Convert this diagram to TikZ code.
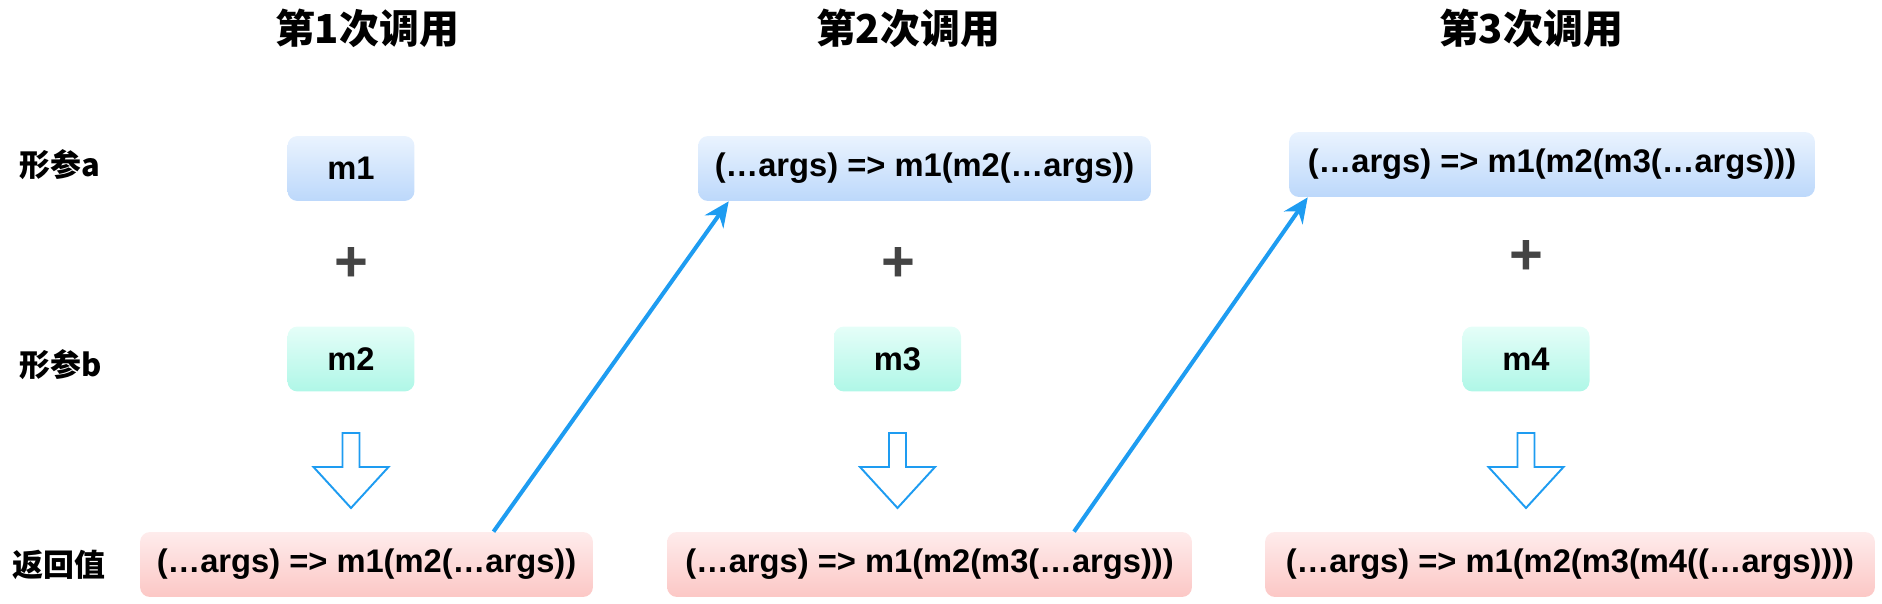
\documentclass[tikz,border=0pt]{standalone}
\usepackage{fontspec}
\setmainfont{Liberation Sans}
\newfontfamily\cjk{Noto Sans CJK SC}
\usepackage{tikz}
\usetikzlibrary{arrows.meta, calc}

\definecolor{blueTop}{HTML}{EAF3FE}
\definecolor{blueBot}{HTML}{BCD8FB}
\definecolor{greenTop}{HTML}{E5FEF8}
\definecolor{greenBot}{HTML}{AFF7E7}
\definecolor{pinkTop}{HTML}{FEECEC}
\definecolor{pinkBot}{HTML}{FCC7C5}
\definecolor{lineBlue}{HTML}{1E9CF1}
\definecolor{plusGray}{HTML}{444444}

\begin{document}
\begin{tikzpicture}[x=0.02cm,y=-0.02cm,
		box/.style={rounded corners=0.2cm,minimum height=1.3cm,inner sep=0pt,
			font=\fontsize{18.6}{21}\selectfont\bfseries},
		arg a/.style={box,top color=blueTop,bottom color=blueBot},
		arg b/.style={box,top color=greenTop,bottom color=greenBot,minimum width=2.54cm},
		ret node/.style={box,top color=pinkTop,bottom color=pinkBot},
		title node/.style={font=\cjk\fontsize{22.7}{26}\selectfont\bfseries},
		side node/.style={anchor=west,font=\cjk\fontsize{17.6}{20}\selectfont\bfseries},
		plus node/.style={text=plusGray,font=\fontsize{33}{34}\selectfont\bfseries},
		hollow/.style={draw=lineBlue,line width=1.1pt,fill=white},
		pass/.style={draw=lineBlue,line width=2.3pt,-{Stealth[length=0.5cm,width=0.45cm]}}]
	
	\useasboundingbox (0,0) rectangle (1882,604);
	
	% titles
	\node[title node] (t1) at (367,28) {第1次调用};
	\node[title node] (t2) at (908,28) {第2次调用};
	\node[title node] (t3) at (1531,28) {第3次调用};
	
	% row labels
	\node[side node] (la) at (13,165) {形参a};
	\node[side node] (lb) at (13,365) {形参b};
	\node[side node] (lr) at (6,565) {返回值};
	
	% first argument
	\node[arg a,minimum width=2.54cm] (a1) at (351,168.5) {m1};
	\node[arg a,minimum width=9.06cm] (a2) at (924.5,168.5) {(…args) => m1(m2(…args))};
	\node[arg a,minimum width=10.52cm] (a3) at (1552,164.5) {(…args) => m1(m2(m3(…args)))};
	
	% plus
	\node[plus node] (p1) at (351,265) {+};
	\node[plus node] (p2) at (898,265) {+};
	\node[plus node] (p3) at (1526,258) {+};
	
	% second argument
	\node[arg b] (b1) at (351,359) {m2};
	\node[arg b] (b2) at (897.5,359) {m3};
	\node[arg b] (b3) at (1526,359) {m4};
	
	% return values
	\node[ret node,minimum width=9.06cm] (r1) at (366.5,564.5) {(…args) => m1(m2(…args))};
	\node[ret node,minimum width=10.5cm] (r2) at (929.5,564.5) {(…args) => m1(m2(m3(…args)))};
	\node[ret node,minimum width=12.2cm] (r3) at (1570,564.5) {(…args) => m1(m2(m3(m4((…args))))};
	
	% hollow down arrows
	\foreach \x in {351,897.5,1526}
	\draw[hollow] (\x-8.5,433) -- (\x+8.5,433) -- (\x+8.5,467) -- (\x+37.5,467)
	-- (\x,508) -- (\x-37.5,467) -- (\x-8.5,467) -- cycle;
	
	\draw[pass] ($(r1.north west)!0.78!(r1.north east)$) -- ([xshift=0.62cm]a2.south west);
	\draw[pass] ($(r2.north west)!0.775!(r2.north east)$) -- ([xshift=0.38cm]a3.south west);
\end{tikzpicture}
\end{document}
